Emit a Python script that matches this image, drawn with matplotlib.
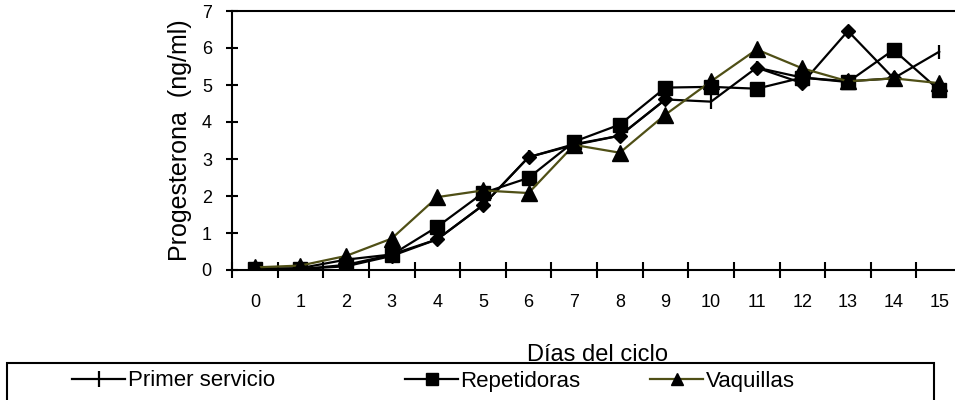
import numpy as np
import matplotlib
matplotlib.use("Agg")
import matplotlib.pyplot as plt
from matplotlib.lines import Line2D
from matplotlib.patches import Rectangle

plt.rcParams["font.family"] = ["Liberation Sans", "DejaVu Sans"]

dias = list(range(16))
# diamond series has no legend entry in the original
serie_rombo = [0.05, 0.03, 0.10, 0.38, 0.83, 1.75, 3.05, 3.38, 3.63, 4.61, np.nan, 5.47, 5.05, 6.46, 5.18, np.nan]
primer_servicio = [0.03, 0.05, 0.28, 0.42, 0.83, 1.75, 3.05, 3.40, 3.63, 4.61, 4.55, 5.47, 5.20, 5.10, 5.18, 5.90]
repetidoras = [0.03, 0.02, 0.14, 0.41, 1.17, 2.08, 2.49, 3.47, 3.93, 4.93, 4.95, 4.90, 5.20, 5.08, 5.95, 4.86]
vaquillas = [0.07, 0.12, 0.38, 0.85, 1.97, 2.15, 2.08, 3.38, 3.17, 4.20, 5.10, 5.96, 5.45, 5.10, 5.18, 5.05]

OLIVE = "#4f4f16"
W, H = 955, 400

fig = plt.figure(figsize=(W / 100, H / 100), dpi=100, facecolor="white")
# axes run past the right edge, as in the cropped original
ax = fig.add_axes([232 / W, 1 - 270 / H, (962 - 232) / W, (270 - 11) / H])

ax.plot(dias, serie_rombo, color="black", lw=1.6, marker="D", ms=7.5, mfc="black", mec="black")
ax.plot(dias, primer_servicio, color="black", lw=1.6, marker="|", ms=10, mew=1.6, mec="black")
ax.plot(dias, repetidoras, color="black", lw=1.6, marker="s", ms=10, mfc="black", mec="black")
ax.plot(dias, vaquillas, color=OLIVE, lw=1.6, marker="^", ms=11, mfc="black", mec="black")

ax.set_xlim(-0.5, 15.5)
ax.set_ylim(0, 7)
ax.set_xticks(np.arange(-0.5, 16, 1))
ax.set_xticklabels([])
ax.set_xticks(dias, minor=True)
ax.set_xticklabels([str(d) for d in dias], minor=True, fontsize=13)
ax.tick_params(axis="x", which="major", direction="inout", length=11, width=1.5, color="black")
ax.tick_params(axis="x", which="minor", length=0, pad=17)
ax.set_yticks(range(8))
ax.tick_params(axis="y", direction="inout", length=9, width=1.5, labelsize=13, pad=10)

for s in ax.spines.values():
    s.set_linewidth(1.5)
    s.set_color("black")

ax.set_ylabel("Progesterona  (ng/ml)", fontsize=18, labelpad=7)
ax.set_xlabel("Días del ciclo", fontsize=17, labelpad=24)

# legend frame cut off at the bottom
fig.add_artist(Rectangle((7 / W, -0.05), (934 - 7) / W, 0.05 + (H - 363) / H,
                         transform=fig.transFigure, fill=False, ec="black", lw=1.5))

entradas = [
    ("Primer servicio", dict(color="black", marker="|", ms=12, mew=1.6), 72),
    ("Repetidoras", dict(color="black", marker="s", ms=8), 405),
    ("Vaquillas", dict(color=OLIVE, marker="^", ms=9, mfc="black", mec="black"), 650),
]
for texto, estilo, x0 in entradas:
    h = Line2D([], [], lw=1.6, **estilo)
    fig.legend([h], [texto], loc="center left", bbox_to_anchor=(x0 / W, 1 - 381 / H),
               frameon=False, fontsize=16, handlelength=2.4, handletextpad=0.1,
               borderpad=0, borderaxespad=0)

fig.savefig("out.png", dpi=100)
